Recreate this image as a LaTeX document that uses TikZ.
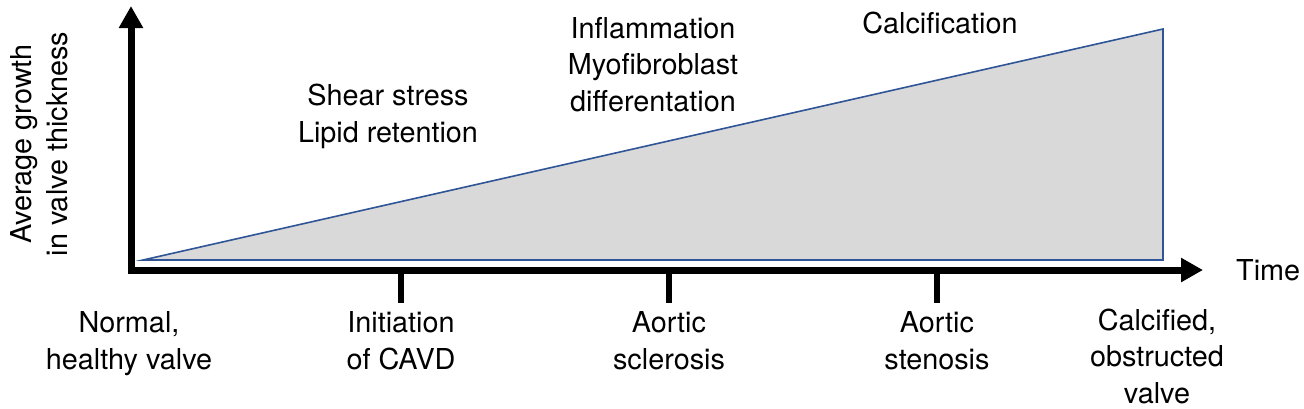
\documentclass[tikz,border=0pt]{standalone}
\usepackage{fontspec}
\setmainfont{TeX Gyre Heros}
\usetikzlibrary{arrows.meta}
\definecolor{tri}{HTML}{D9D9D9}
\definecolor{triline}{HTML}{2F5597}
\begin{document}
\begin{tikzpicture}[x=1pt,y=-1pt,
  lbl/.style={inner sep=0pt,align=center,font=\fontsize{28.8}{36.5}\selectfont,anchor=base},
  axis/.style={line width=7pt,line join=miter},
  tick/.style={line width=6.5pt}]
\useasboundingbox (0,0) rectangle (1304,408);
% triangle
\draw[fill=tri,draw=triline,line width=1.6pt,line join=miter] (143,260) -- (1163,29) -- (1163,260) -- cycle;
% axes
\coordinate (O) at (131,270);
\coordinate (ytop) at (131,6);
\coordinate (xend) at (1203,270);
\draw[axis,{Triangle[width=23pt,length=22pt]}-{Triangle[width=23pt,length=22pt]}] (ytop) -- (O) -- (xend);
% ticks
\foreach \n/\x in {t1/401,t2/669,t3/937}{
  \coordinate (\n a) at (\x,270);
  \coordinate (\n b) at (\x,303);
  \draw[tick] (\n a) -- (\n b);
}
% labels (base anchor = baseline of the last line)
\node[lbl] (normal) at (129,369) {Normal,\\healthy valve};
\node[lbl] (init) at (401,369) {Initiation\\of CAVD};
\node[lbl] (scl) at (669,369) {Aortic\\sclerosis};
\node[lbl] (sten) at (937,369) {Aortic\\stenosis};
\node[lbl] (calc) at (1157,403) {Calcified,\\obstructed\\valve};
\node[lbl,anchor=base west] (time) at (1236,280) {Time};
\node[lbl] (shear) at (388,142) {Shear stress\\Lipid retention};
\node[lbl] (infl) at (653,111) {Inflammation\\Myofibroblast\\differentation};
\node[lbl] (calcf) at (940,33) {Calcification};
\node[lbl,anchor=center,rotate=90] (ylab) at (39,144) {Average growth\\in valve thickness};
\end{tikzpicture}
\end{document}
